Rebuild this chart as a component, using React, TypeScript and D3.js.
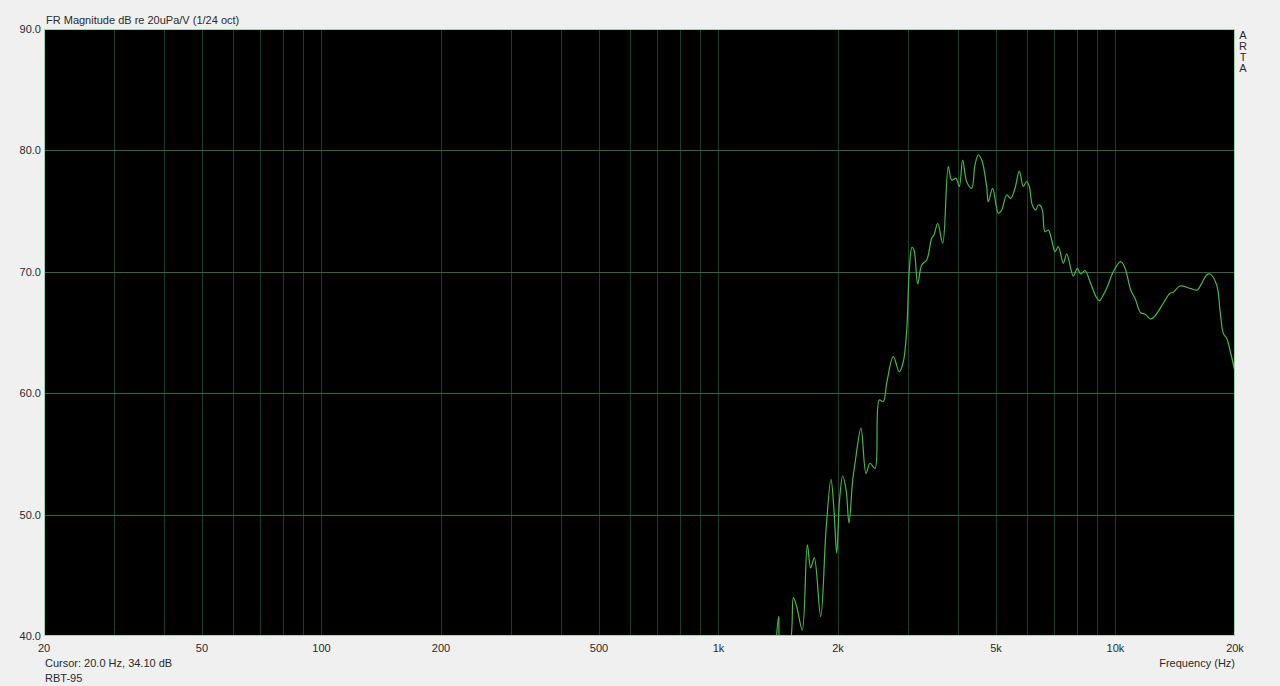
import React from "react";
import * as d3 from "d3";

const freqs = [
  1396, 1418, 1437, 1505, 1544, 1574, 1626, 1674, 1707, 1743, 1809, 1866, 1920, 1954, 1985, 2018,
  2055, 2096, 2132, 2178, 2208, 2285, 2353, 2408, 2479, 2541, 2601, 2653, 2756, 2854, 2921, 2980,
  3024, 3072, 3108, 3176, 3250, 3346, 3444, 3490, 3565, 3671, 3792, 3867, 3965, 4042, 4122, 4219,
  4343, 4427, 4512, 4603, 4738, 4782, 4905, 5068, 5169, 5321, 5445, 5583, 5724, 5859, 5975, 6067,
  6173, 6296, 6391, 6481, 6556, 6644, 6772, 6907, 7041, 7177, 7388, 7536, 7829, 8013, 8173, 8380,
  8627, 8932, 9104, 9318, 9537, 9874, 10307, 10567, 10922, 11197, 11574, 11865, 12265, 12574, 13195,
  13718, 13983, 14537, 15405, 16072, 16485, 16970, 17299, 17985, 18335, 18688, 19058, 19506, 20000,
];
const levels = [
  39.3, 41.59, 39.3, 39.3, 43.16, 42.41, 40.49, 47.5, 45.6, 46.43, 41.59, 48.73, 52.91, 50.38, 46.81, 51.2,
  53.18, 52.03, 49.31, 52.85, 54.25, 57.11, 53.4, 54.23, 53.81, 59.44, 59.3, 60.82, 63.01, 61.77, 62.59, 65.21,
  70.15, 72.02, 71.8, 69.0, 70.56, 70.97, 72.76, 73.03, 74.0, 72.35, 78.66, 77.56, 77.7, 77.01, 79.21, 77.42,
  76.88, 78.8, 79.62, 79.21, 77.01, 75.77, 76.88, 74.82, 75.09, 76.33, 76.05, 76.88, 78.3, 77.03, 77.44, 77.01,
  75.5, 75.09, 75.5, 75.42, 74.95, 73.3, 73.44, 72.62, 71.66, 72.07, 70.7, 71.47, 69.65, 70.29, 69.82, 70.09,
  69.18, 67.95, 67.62, 68.09, 68.77, 70.01, 70.83, 70.31, 68.5, 67.82, 66.63, 66.52, 66.11, 66.36, 67.41,
  68.23, 68.31, 68.83, 68.64, 68.5, 69.05, 69.74, 69.82, 68.91, 66.85, 64.93, 64.52, 63.29, 61.77,
];

const yTicks = [40, 50, 60, 70, 80, 90];
const xTickValues = [20, 50, 100, 200, 500, 1000, 2000, 5000, 10000, 20000];
const xTickLabels = ["20", "50", "100", "200", "500", "1k", "2k", "5k", "10k", "20k"];
const gridFreqs = [
  30, 40, 50, 60, 70, 80, 90, 100, 200, 300, 400, 500, 600, 700, 800, 900, 1000,
  2000, 3000, 4000, 5000, 6000, 7000, 8000, 9000, 10000,
];
const titleText = "FR Magnitude dB re 20uPa/V (1/24 oct)";
const cursorText = "Cursor: 20.0 Hz, 34.10 dB";
const nameText = "RBT-95";
const xAxisTitle = "Frequency (Hz)";
const brand = ["A", "R", "T", "A"];

export default function App() {
  const W = 1280, H = 686;
  const left = 44, right = 1235, top = 29, bottom = 636;
  const x = d3.scaleLog().domain([20, 20000]).range([left, right]);
  const y = d3.scaleLinear().domain([40, 90]).range([bottom, top]);
  const pts = freqs.map((f, i) => [f, levels[i]] as [number, number]);
  const line = d3
    .line<[number, number]>()
    .x((d) => x(d[0]))
    .y((d) => y(d[1]))
    .curve(d3.curveCatmullRom.alpha(0.5));
  const font = "'Liberation Sans', Arial, sans-serif";
  const textColor = "#2a2a2a";
  return (
    <svg
      width={W}
      height={H}
      style={{ position: "absolute", left: 0, top: 0, display: "block" }}
      fontFamily={font}
      fontSize={11}
    >
      <rect x={0} y={0} width={W} height={H} fill="#f0f0f0" />
      <defs>
        <clipPath id="plotclip">
          <rect x={left} y={top} width={right - left} height={bottom - top} />
        </clipPath>
      </defs>
      <rect x={left} y={top} width={right - left} height={bottom - top} fill="#000" />
      {gridFreqs.map((f) => (
        <line
          key={"v" + f}
          x1={Math.round(x(f)) + 0.5}
          x2={Math.round(x(f)) + 0.5}
          y1={top}
          y2={bottom}
          stroke="#17402a"
          strokeWidth={1}
        />
      ))}
      {yTicks.slice(1, -1).map((t) => (
        <line
          key={"h" + t}
          x1={left}
          x2={right}
          y1={Math.round(y(t)) + 0.5}
          y2={Math.round(y(t)) + 0.5}
          stroke="#2c6a34"
          strokeWidth={1}
        />
      ))}
      <path
        d={line(pts) || ""}
        fill="none"
        stroke="#44bb44"
        strokeWidth={1.2}
        clipPath="url(#plotclip)"
      />
      <rect
        x={left + 0.5}
        y={top + 0.5}
        width={right - left - 1}
        height={bottom - top - 1}
        fill="none"
        stroke="#9fd4a4"
        strokeWidth={1}
      />
      <text x={46} y={24} fill={textColor}>{titleText}</text>
      {yTicks.map((t) => (
        <text key={"yl" + t} x={41} y={y(t) + 4} textAnchor="end" fill={textColor}>
          {t.toFixed(1)}
        </text>
      ))}
      {xTickValues.map((v, i) => (
        <text key={"xl" + v} x={x(v)} y={652} textAnchor="middle" fill={textColor}>
          {xTickLabels[i]}
        </text>
      ))}
      <text x={45} y={667} fill={textColor}>{cursorText}</text>
      <text x={45} y={682} fill={textColor}>{nameText}</text>
      <text x={1235} y={667} textAnchor="end" fill={textColor}>{xAxisTitle}</text>
      {brand.map((c, i) => (
        <text key={"b" + i} x={1243} y={39 + i * 11} textAnchor="middle" fill={textColor}>
          {c}
        </text>
      ))}
    </svg>
  );
}
